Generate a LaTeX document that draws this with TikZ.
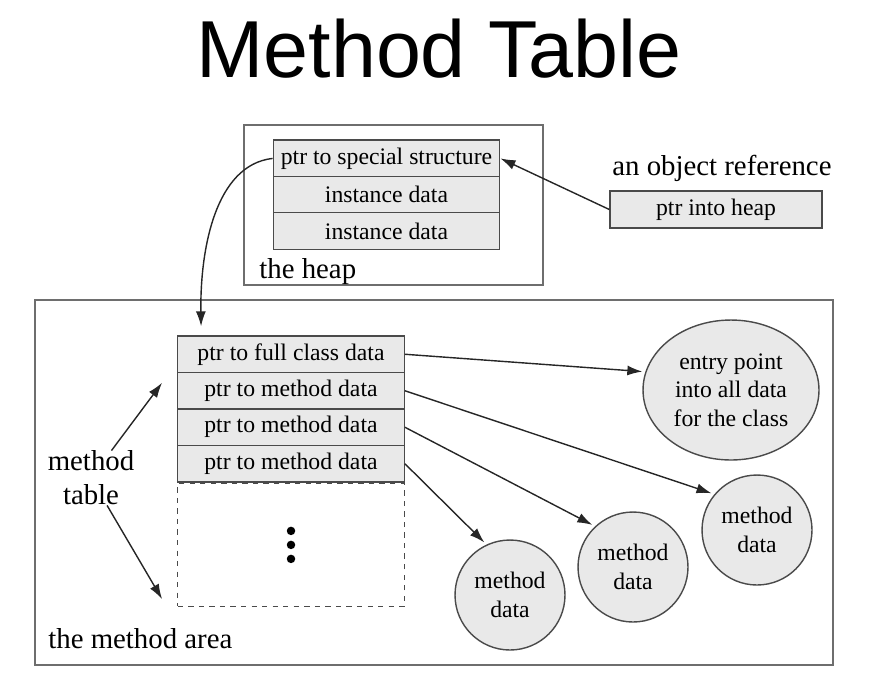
\documentclass[tikz,border=0pt]{standalone}
\usepackage{fontspec}
\setmainfont{Liberation Serif}
\newfontfamily\titlefont{Liberation Sans}
\usetikzlibrary{arrows.meta}
\usetikzlibrary{positioning}
\usetikzlibrary{shapes.geometric}
\definecolor{cellgray}{HTML}{E9E9E9}
\definecolor{edgegray}{HTML}{4A4A4A}
\definecolor{boxgray}{HTML}{6E6E6E}
\tikzset{
  slot/.style={draw=edgegray, line width=0.8pt, fill=cellgray, inner sep=0pt,
    minimum width=4.53cm, minimum height=0.73cm, font=\fontsize{13.5}{16.3}\selectfont},
  blob/.style={draw=edgegray, line width=0.8pt, fill=cellgray, circle, inner sep=0pt,
    minimum size=2.2cm, align=center, font=\fontsize{13.5}{16.3}\selectfont},
  lbl/.style={inner sep=0pt, font=\fontsize{16.4}{19.3}\selectfont},
  ptr/.style={line width=0.8pt, draw=black!85, -{Latex[length=0.3cm,width=0.2cm]}}
}
\begin{document}
\begin{tikzpicture}[x=0.02cm, y=-0.02cm]
    \useasboundingbox (0,0) rectangle (874,691);
    \node[anchor=base, font=\titlefont\fontsize{46}{50}\selectfont] (title) at (439,77) {Method Table};
    \draw[boxgray, line width=0.8pt] (244,125) rectangle (543,285);  %the heap
    \draw[boxgray, line width=0.8pt] (35,300) rectangle (833,665);  %the method area
    \node[lbl, anchor=base west] (heaplbl) at (259,278) {the heap};
    \node[lbl, anchor=base west] (arealbl) at (48,648) {the method area};
    \foreach \i/\txt in  %Objekt im Heap
    {
      1/ptr to special structure,
      2/instance data,
      3/instance data
    }
    {
      \node[slot] (heap\i) at (386.5, 122.1 + \i * 36.3) {\txt};
    };
    \node[lbl, anchor=base west] (reflbl) at (612,175) {an object reference};
    \node[slot, minimum width=4.24cm, minimum height=0.74cm] (ptrheap) at (716,209.5) {ptr into heap};
    \draw[ptr] (ptrheap.west) -- (heap1.east);
    \foreach \i/\txt in  %Methodentabelle
    {
      1/ptr to full class data,
      2/ptr to method data,
      3/ptr to method data,
      4/ptr to method data
    }
    {
      \node[slot] (mt\i) at (291, 317.75 + \i * 36.5) {\txt};
    };
    \node[slot, fill=none, dashed, minimum height=2.46cm, below=0pt of mt4] (dots) {};
    \foreach \d in {-14,0,14}  %Punkte
      \fill ([yshift=\d * 0.02cm]dots.center) circle[radius=0.085cm];
    \draw[ptr] (heap1.west) .. controls (215,165) and (200,250) .. ([xshift=0.48cm,yshift=0.18cm]mt1.north west);
    \node[lbl, align=center] (mtlbl) at (91,478) {method\\table};
    \draw[ptr] (mtlbl) -- ([xshift=-0.3cm,yshift=0.16cm]mt2.west);
    \draw[ptr] (mtlbl) -- ([xshift=-0.3cm,yshift=0.16cm]dots.south west);
    \node[blob, ellipse, minimum width=3.52cm, minimum height=2.8cm] (entry) at (731,390)
      {entry point\\into all data\\for the class};
    \foreach \name/\x/\y in {md1/757/530, md2/633/567, md3/510/595}
      \node[blob] (\name) at (\x,\y) {method\\data};
    \foreach \i/\dest in {1/entry.168, 2/md1.140, 3/md2.133, 4/md3.115}
      \draw[ptr, shorten >=0.06cm] (mt\i.east) -- (\dest);
\end{tikzpicture}
\end{document}
